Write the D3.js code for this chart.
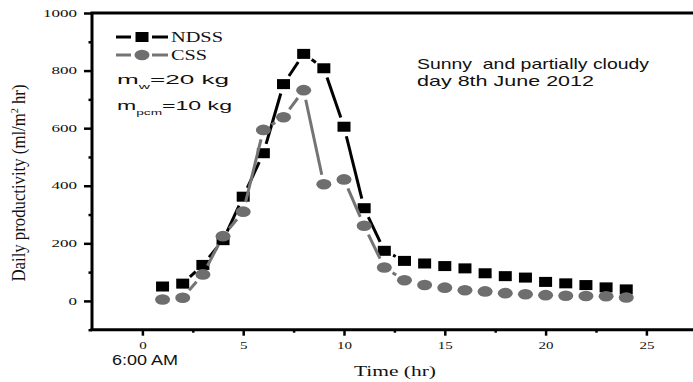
<!DOCTYPE html>
<html>
<head>
<meta charset="utf-8">
<script src="https://cdn.jsdelivr.net/npm/d3@7/dist/d3.min.js"></script>
<style>
  body { margin: 0; background: #fff; }
  svg { display: block; }
  .serif { font-family: "Liberation Serif", "Times New Roman", serif; fill: #111; }
  .sans { font-family: "Liberation Sans", Arial, sans-serif; fill: #111; white-space: pre; }
</style>
</head>
<body>
<div id="chart"></div>
<script>
// data
var hours = [1, 2, 3, 4, 5, 6, 7, 8, 9, 10, 11, 12, 13, 14, 15, 16, 17, 18, 19, 20, 21, 22, 23, 24];
var ndss = [50, 60, 125, 211, 362, 513, 753, 858, 808, 605, 322, 174, 139, 130, 121, 113, 96, 86, 81, 66, 61, 55, 47, 40];
var css = [5, 11, 92, 225, 310, 594, 638, 732, 405, 422, 261, 116, 72, 55, 46, 37, 33, 27, 23, 20, 18, 17, 16, 12];
var xTicks = [0, 5, 10, 15, 20, 25];
var xMinor = [2.5, 7.5, 12.5, 17.5, 22.5, 27.5];
var yTicks = [0, 200, 400, 600, 800, 1000];
var yMinor = [-100, 100, 300, 500, 700, 900];

var w = 693, h = 382;
var padL = 92, padB = 329.7, padT = 13;

var svg = d3.select("#chart").append("svg")
    .attr("width", w)
    .attr("height", h);

var x = d3.scaleLinear().domain([-2.5, 30]).range([padL, padL + 32.5 * 20.16]);
var y = d3.scaleLinear().domain([-100, 1000]).range([padB, padT]);

// the original figure is stretched sideways: squeeze glyphs into measured widths
function fit(sel, len) {
    sel.attr("textLength", len).attr("lengthAdjust", "spacingAndGlyphs");
}

// axes
var gx = svg.append("g").attr("transform", "translate(0," + padB + ")");
gx.call(d3.axisBottom(x).tickValues(xTicks).tickSize(6).tickPadding(6).tickFormat(d3.format("d")));
gx.append("g").call(d3.axisBottom(x).tickValues(xMinor).tickSize(3).tickFormat(""));
gx.selectAll(".domain").remove();
gx.selectAll("line").attr("stroke", "#000").attr("stroke-width", 2.5);
gx.selectAll("text")
    .attr("class", "serif")
    .style("font-size", "10px")
    .attr("fill", "#111")
    .each(function(d) { fit(d3.select(this), String(d).length * 7.5); });

var gy = svg.append("g").attr("transform", "translate(" + padL + ",0)");
gy.call(d3.axisLeft(y).tickValues(yTicks).tickSize(8).tickPadding(7).tickFormat(d3.format("d")));
gy.append("g").call(d3.axisLeft(y).tickValues(yMinor).tickSize(3.5).tickFormat(""));
gy.selectAll(".domain").remove();
gy.selectAll("line").attr("stroke", "#000").attr("stroke-width", 2.5);
gy.selectAll("text")
    .attr("class", "serif")
    .style("font-size", "10px")
    .attr("fill", "#111")
    .each(function(d) { fit(d3.select(this), String(d).length * 8.5); });

// frame: left, bottom, top
svg.append("line").attr("x1", padL).attr("x2", padL).attr("y1", padT).attr("y2", padB)
    .attr("stroke", "#000").attr("stroke-width", 3);
svg.append("line").attr("x1", padL - 1.5).attr("x2", w).attr("y1", padB).attr("y2", padB)
    .attr("stroke", "#000").attr("stroke-width", 3);
svg.append("line").attr("x1", padL - 1.5).attr("x2", w).attr("y1", padT).attr("y2", padT)
    .attr("stroke", "#000").attr("stroke-width", 3);

// lines with a gap round each symbol
var gap = 9.8;
function series(vals, color, width) {
    var pts = hours.map(function(d, i) { return [x(d), y(vals[i])]; });
    var segs = [];
    for (var i = 0; i < pts.length - 1; i++) {
        var a = pts[i], b = pts[i + 1];
        var dx = b[0] - a[0], dy = b[1] - a[1];
        var L = Math.sqrt(dx * dx + dy * dy);
        if (L <= 2 * gap + 1.5) continue;
        var ux = dx / L, uy = dy / L;
        segs.push([a[0] + ux * gap, a[1] + uy * gap, b[0] - ux * gap, b[1] - uy * gap]);
    }
    svg.append("g").selectAll("line")
        .data(segs)
        .enter()
        .append("line")
        .attr("x1", function(s) { return s[0]; })
        .attr("y1", function(s) { return s[1]; })
        .attr("x2", function(s) { return s[2]; })
        .attr("y2", function(s) { return s[3]; })
        .attr("stroke", color)
        .attr("stroke-width", width);
}

series(ndss, "#000", 3);
svg.append("g").selectAll("rect")
    .data(ndss)
    .enter()
    .append("rect")
    .attr("x", function(d, i) { return x(hours[i]) - 6.5; })
    .attr("y", function(d) { return y(d) - 5; })
    .attr("width", 13)
    .attr("height", 10)
    .attr("fill", "#000");

series(css, "#747474", 3);
svg.append("g").selectAll("ellipse")
    .data(css)
    .enter()
    .append("ellipse")
    .attr("cx", function(d, i) { return x(hours[i]); })
    .attr("cy", function(d) { return y(d); })
    .attr("rx", 7.5)
    .attr("ry", 5.3)
    .attr("fill", "#6e6e6e");

// legend
var lg = svg.append("g");
lg.append("line").attr("x1", 116).attr("x2", 131).attr("y1", 37).attr("y2", 37).attr("stroke", "#000").attr("stroke-width", 3);
lg.append("line").attr("x1", 152).attr("x2", 168).attr("y1", 37).attr("y2", 37).attr("stroke", "#000").attr("stroke-width", 3);
lg.append("rect").attr("x", 135.5).attr("y", 32).attr("width", 13).attr("height", 10).attr("fill", "#000");
lg.append("line").attr("x1", 116).attr("x2", 131).attr("y1", 55).attr("y2", 55).attr("stroke", "#747474").attr("stroke-width", 3);
lg.append("line").attr("x1", 152).attr("x2", 168).attr("y1", 55).attr("y2", 55).attr("stroke", "#747474").attr("stroke-width", 3);
lg.append("ellipse").attr("cx", 142).attr("cy", 55).attr("rx", 7.5).attr("ry", 5.3).attr("fill", "#6e6e6e");
fit(lg.append("text").attr("class", "serif").attr("x", 171).attr("y", 42).style("font-size", "14px").text("NDSS"), 52);
fit(lg.append("text").attr("class", "serif").attr("x", 171).attr("y", 60).style("font-size", "14px").text("CSS"), 36);

var t1 = lg.append("text").attr("class", "sans").attr("x", 117).attr("y", 84).style("font-size", "13.5px");
t1.append("tspan").text("m");
t1.append("tspan").attr("dy", 5).style("font-size", "8px").text("w");
t1.append("tspan").attr("dy", -5).text("=20 kg");
fit(t1, 112);

var t2 = lg.append("text").attr("class", "sans").attr("x", 117).attr("y", 110).style("font-size", "13.5px");
t2.append("tspan").text("m");
t2.append("tspan").attr("dy", 5).style("font-size", "8px").text("pcm");
t2.append("tspan").attr("dy", -5).text("=10 kg");
fit(t2, 115);

// annotation
fit(svg.append("text").attr("class", "sans").attr("x", 417).attr("y", 69).style("font-size", "15px")
    .text("Sunny  and partially cloudy"), 232);
fit(svg.append("text").attr("class", "sans").attr("x", 417).attr("y", 86).style("font-size", "15px")
    .text("day 8th June 2012"), 177);

// axis titles
fit(svg.append("text").attr("class", "serif").attr("text-anchor", "middle")
    .attr("x", 395).attr("y", 376).style("font-size", "15px").text("Time (hr)"), 82);
fit(svg.append("text").attr("class", "sans").attr("x", 112).attr("y", 365).style("font-size", "14px")
    .text("6:00 AM"), 66);

// rotated title: glyph height stretched like the rest of the figure
var yt = svg.append("text").attr("class", "serif").attr("text-anchor", "middle")
    .attr("transform", "translate(25,183) rotate(-90) scale(1,1.3)").style("font-size", "14px");
yt.append("tspan").text("Daily productivity (ml/m");
yt.append("tspan").attr("dy", -5.5).style("font-size", "8.5px").text("2");
yt.append("tspan").attr("dy", 5.5).text(" hr)");
fit(yt, 197);
</script>
</body>
</html>
